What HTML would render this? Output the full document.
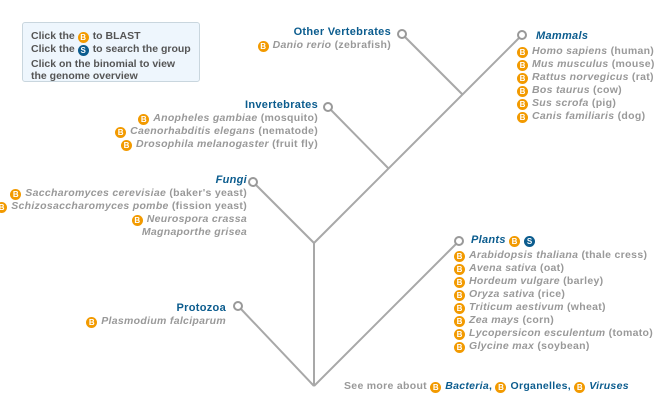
<!DOCTYPE html>
<html><head><meta charset="utf-8"><style>
body{margin:0;width:663px;height:400px;background:#fff;position:relative;overflow:hidden;font-family:"Liberation Sans",sans-serif;font-size:10.5px;font-weight:bold;letter-spacing:0.3px}
.t{position:absolute;white-space:nowrap;line-height:13px;color:#999}
.r{text-align:right}
.h{color:#0b5c8e;font-size:11px}
i{font-style:italic}
.b,.s{display:inline-block;width:11px;height:11px;border-radius:50%;background:#f29a00;color:#fff;font-size:8px;line-height:11px;text-align:center;vertical-align:-1px;margin-right:4px;font-style:normal;letter-spacing:0}
.s{background:#0b5c8e}
.box{position:absolute;left:22px;top:22px;width:176px;height:58px;background:#eef6fd;border:1px solid #c9d6de;border-radius:3px;color:#555;letter-spacing:0}
</style></head><body>
<svg width="663" height="400" style="position:absolute;left:0;top:0">
<g stroke="#a8a8a8" stroke-width="2" fill="none">
<line x1="314" y1="386" x2="314" y2="243"/>
<line x1="314" y1="386" x2="241" y2="309"/>
<line x1="314" y1="386" x2="456" y2="244"/>
<line x1="314" y1="243" x2="256" y2="185"/>
<line x1="314" y1="243" x2="519" y2="38"/>
<line x1="389" y1="169" x2="331" y2="110"/>
<line x1="463" y1="95" x2="405" y2="37"/>
</g>
<g stroke="#999" stroke-width="2" fill="#fff">
<circle cx="402" cy="34" r="4"/><circle cx="522" cy="35" r="4"/>
<circle cx="328" cy="107" r="4"/><circle cx="253" cy="182" r="4"/>
<circle cx="238" cy="306" r="4"/><circle cx="459" cy="241" r="4"/>
</g></svg>
<div class="box"><div class="t" style="left:8px;top:7px;color:#555">Click the <span class="b">B</span>to BLAST<br>Click the <span class="s">S</span>to search the group</div>
<div class="t" style="left:8px;top:35px;color:#555;line-height:12px">Click on the binomial to view<br>the genome overview</div></div>

<div class="t r" style="right:272px;top:26px"><span class="h">Other Vertebrates</span><br><span class="b">B</span><i>Danio rerio</i> (zebrafish)</div>
<div class="t" style="left:517px;top:30px;line-height:13px"><span class="h" style="margin-left:19px"><i>Mammals</i></span><br>
<span style="display:block;height:2px"></span>
<span class="b">B</span><i>Homo sapiens</i> (human)<br><span class="b">B</span><i>Mus musculus</i> (mouse)<br><span class="b">B</span><i>Rattus norvegicus</i> (rat)<br><span class="b">B</span><i>Bos taurus</i> (cow)<br><span class="b">B</span><i>Sus scrofa</i> (pig)<br><span class="b">B</span><i>Canis familiaris</i> (dog)</div>
<div class="t r" style="right:345px;top:99px"><span class="h">Invertebrates</span><br><span class="b">B</span><i>Anopheles gambiae</i> (mosquito)<br><span class="b">B</span><i>Caenorhabditis elegans</i> (nematode)<br><span class="b">B</span><i>Drosophila melanogaster</i> (fruit fly)</div>
<div class="t r" style="right:416px;top:174px"><span class="h"><i>Fungi</i></span><br><span class="b">B</span><i>Saccharomyces cerevisiae</i> (baker's yeast)<br><span class="b">B</span><i>Schizosaccharomyces pombe</i> (fission yeast)<br><span class="b">B</span><i>Neurospora crassa</i><br><i>Magnaporthe grisea</i></div>
<div class="t r" style="right:437px;top:302px"><span class="h">Protozoa</span><br><span class="b">B</span><i>Plasmodium falciparum</i></div>
<div class="t" style="left:454px;top:234px"><span class="h" style="margin-left:17px"><i>Plants</i></span> <span class="b">B</span><span class="s">S</span><br>
<span style="display:block;height:2px"></span>
<span class="b">B</span><i>Arabidopsis thaliana</i> (thale cress)<br><span class="b">B</span><i>Avena sativa</i> (oat)<br><span class="b">B</span><i>Hordeum vulgare</i> (barley)<br><span class="b">B</span><i>Oryza sativa</i> (rice)<br><span class="b">B</span><i>Triticum aestivum</i> (wheat)<br><span class="b">B</span><i>Zea mays</i> (corn)<br><span class="b">B</span><i>Lycopersicon esculentum</i> (tomato)<br><span class="b">B</span><i>Glycine max</i> (soybean)</div>
<div class="t" style="left:344px;top:380px">See more about <span class="b">B</span><i class="h" style="font-size:10.5px">Bacteria</i><span class="h" style="font-size:10.5px">,</span> <span class="b">B</span><span class="h" style="font-size:10.5px">Organelles,</span> <span class="b">B</span><i class="h" style="font-size:10.5px">Viruses</i></div>
</body></html>
